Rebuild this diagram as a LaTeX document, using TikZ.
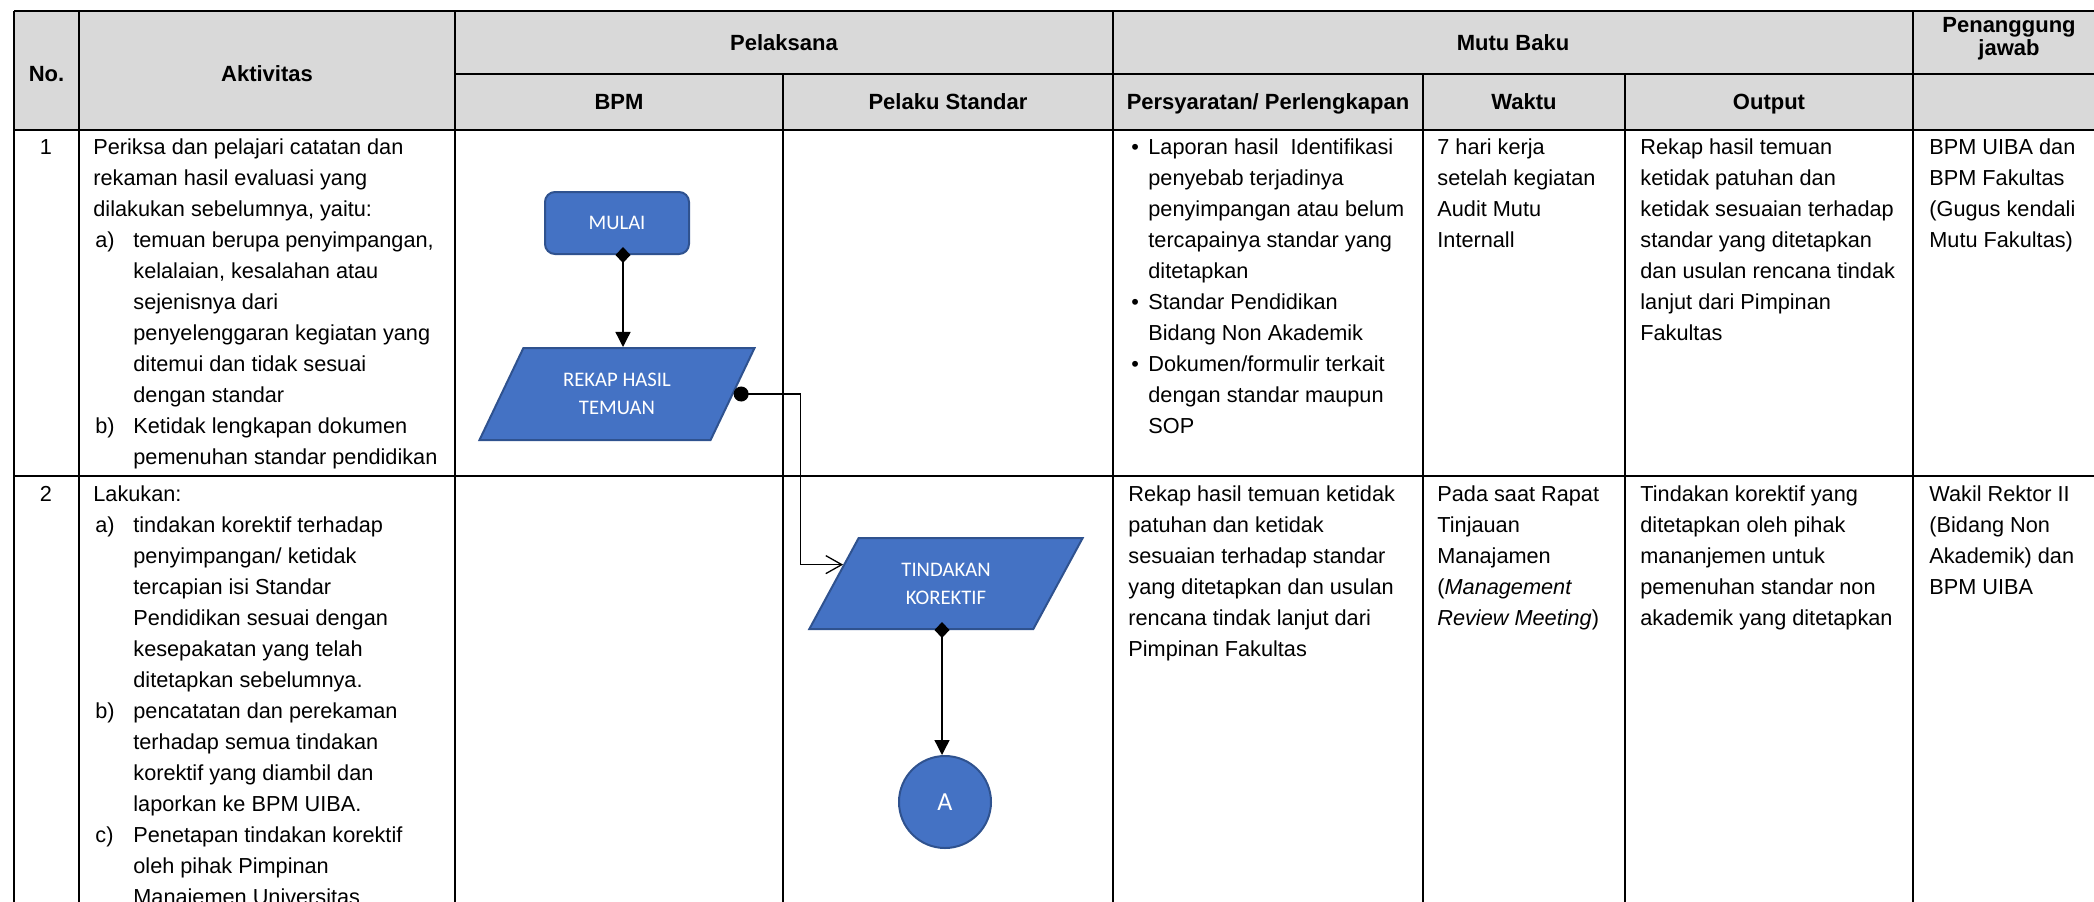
\documentclass[tikz,border=0pt]{standalone}
\usepackage{fontspec}
\setmainfont{Liberation Sans}
\newfontfamily\calfont{Carlito}
\usetikzlibrary{shapes.geometric,arrows.meta,calc}
\definecolor{hdr}{HTML}{D9D9D9}
\definecolor{shfill}{HTML}{4472C4}
\definecolor{shdraw}{HTML}{2F528F}
\newcommand\lb[1]{\hspace*{1pt}\makebox[19pt][l]{#1}}
\newcommand\ii{\hspace*{20pt}}
\newcommand\bl{\makebox[8.5pt][l]{\textbullet}}
\newcommand\bi{\hspace*{8.5pt}}
\begin{document}
\begin{tikzpicture}[x=0.5pt,y=-0.5pt,
  grid/.style={line width=1.4pt},
  hd/.style={font=\bfseries\fontsize{11}{13}\selectfont, inner sep=0pt, text height=7.9pt, text depth=0pt, anchor=center},
  body/.style={font=\fontsize{10.85}{15.5}\selectfont, align=left, anchor=north west, inner sep=0pt},
  num/.style={font=\fontsize{10.85}{15.5}\selectfont, anchor=north, inner sep=0pt},
  fbox/.style={fill=shfill, draw=shdraw, line width=1pt, text=white, font=\calfont\fontsize{10.35}{14}\selectfont, align=center, inner sep=0pt},
  para/.style={fbox, trapezium, trapezium left angle=58.7, trapezium right angle=121.3, trapezium stretches=true},
  conn/.style={line width=0.65pt},
]
\path[use as bounding box] (0,0) rectangle (2094,901);
\begin{scope}
\clip (0,0) rectangle (2094,901);
% header fill
\fill[hdr] (14,11) rectangle (2105,130);
% grid
\draw[grid] (14,11) -- (2105,11);
\draw[grid] (455,74) -- (2105,74);
\draw[grid] (14,130) -- (2105,130);
\draw[grid] (14,476) -- (2105,476);
\foreach \x in {14,79,455,1113,1913,2105} \draw[grid] (\x,11) -- (\x,960);
\foreach \x in {783,1423,1625} \draw[grid] (\x,74) -- (\x,960);
% header text
\node[hd] (hno) at (46.5,74) {No.};
\node[hd] (hakt) at (267,74) {Aktivitas};
\node[hd] (hpel) at (784,43) {Pelaksana};
\node[hd] (hbpm) at (619,102) {BPM};
\node[hd] (hpls) at (948,102) {Pelaku Standar};
\node[hd] (hmb) at (1513,43) {Mutu Baku};
\node[hd] (hps) at (1268,102) {Persyaratan/ Perlengkapan};
\node[hd] (hwk) at (1524,102) {Waktu};
\node[hd] (hout) at (1769,102) {Output};
\node[font=\bfseries\fontsize{11}{11.5}\selectfont, align=center, inner sep=0pt] (hpj) at (2009,39) {Penanggung\\jawab};
% row 1
\node[num] (n1) at (46,132.3) {\strut 1};
\node[body] (a1) at (93,132.3) {\strut Periksa dan pelajari catatan dan\\
rekaman hasil evaluasi yang\\
dilakukan sebelumnya, yaitu:\\
\lb{a)}temuan berupa penyimpangan,\\
\ii kelalaian, kesalahan atau\\
\ii sejenisnya dari\\
\ii penyelenggaran kegiatan yang\\
\ii ditemui dan tidak sesuai\\
\ii dengan standar\\
\lb{b)}Ketidak lengkapan dokumen\\
\ii pemenuhan standar pendidikan};
\node[body] (p1) at (1131,132.3) {\strut\bl Laporan hasil\ \ Identifikasi\\
\bi penyebab terjadinya\\
\bi penyimpangan atau belum\\
\bi tercapainya standar yang\\
\bi ditetapkan\\
\bl Standar Pendidikan\\
\bi Bidang Non Akademik\\
\bl Dokumen/formulir terkait\\
\bi dengan standar maupun\\
\bi SOP};
\node[body] (w1) at (1437,132.3) {\strut 7 hari kerja\\setelah kegiatan\\Audit Mutu\\Internall};
\node[body] (o1) at (1640,132.3) {\strut Rekap hasil temuan\\ketidak patuhan dan\\ketidak sesuaian terhadap\\standar yang ditetapkan\\dan usulan rencana tindak\\lanjut dari Pimpinan\\Fakultas};
\node[body] (j1) at (1929,132.3) {\strut BPM UIBA dan\\BPM Fakultas\\(Gugus kendali\\Mutu Fakultas)};
% row 2
\node[num] (n2) at (46,479.3) {\strut 2};
\node[body] (a2) at (93,479.3) {\strut Lakukan:\\
\lb{a)}tindakan korektif terhadap\\
\ii penyimpangan/ ketidak\\
\ii tercapian isi Standar\\
\ii Pendidikan sesuai dengan\\
\ii kesepakatan yang telah\\
\ii ditetapkan sebelumnya.\\
\lb{b)}pencatatan dan perekaman\\
\ii terhadap semua tindakan\\
\ii korektif yang diambil dan\\
\ii laporkan ke BPM UIBA.\\
\lb{c)}Penetapan tindakan korektif\\
\ii oleh pihak Pimpinan\\
\ii Manajemen Universitas};
\node[body] (p2) at (1128,479.3) {\strut Rekap hasil temuan ketidak\\patuhan dan ketidak\\sesuaian terhadap standar\\yang ditetapkan dan usulan\\rencana tindak lanjut dari\\Pimpinan Fakultas};
\node[body] (w2) at (1437,479.3) {\strut Pada saat Rapat\\Tinjauan\\Manajamen\\(\textit{Management}\\\textit{Review Meeting})};
\node[body] (o2) at (1640,479.3) {\strut Tindakan korektif yang\\ditetapkan oleh pihak\\mananjemen untuk\\pemenuhan standar non\\akademik yang ditetapkan};
\node[body] (j2) at (1929,479.3) {\strut Wakil Rektor II\\(Bidang Non\\Akademik) dan\\BPM UIBA};
% flowchart
\node[fbox, rounded corners=5pt, minimum width=72pt, minimum height=31pt] (mulai) at (617,223) {MULAI};
\node[para, minimum width=138pt, minimum height=46pt] (rekap) at (617,394) {REKAP HASIL\\TEMUAN};
\node[para, minimum width=137pt, minimum height=45.5pt] (tind) at (946,583.5) {TINDAKAN\\KOREKTIF};
\node[fbox, circle, minimum size=46pt, font=\calfont\fontsize{13}{15}\selectfont] (a) at (945,802) {A};
\coordinate (tin) at ($(tind.top left corner)!0.297!(tind.bottom left corner)$);
\draw[conn, {Diamond[length=8pt,width=7.5pt]}-{Triangle[length=7.5pt,width=7.5pt]}] ([xshift=3pt,yshift=4pt]mulai.south) -- ([xshift=3pt]mulai.south |- rekap.north);
\draw[conn, {Circle[length=7.5pt]}-{Straight Barb[length=8pt,width=9pt]}] (rekap.east) -- ++(67,0) |- (tin);
\draw[conn, {Diamond[length=8pt,width=7.5pt]}-{Triangle[length=7.5pt,width=7.5pt]}] ([xshift=-2pt,yshift=4pt]tind.south) -- ([xshift=-2pt]tind.south |- a.north);
\end{scope}
\end{tikzpicture}
\end{document}
